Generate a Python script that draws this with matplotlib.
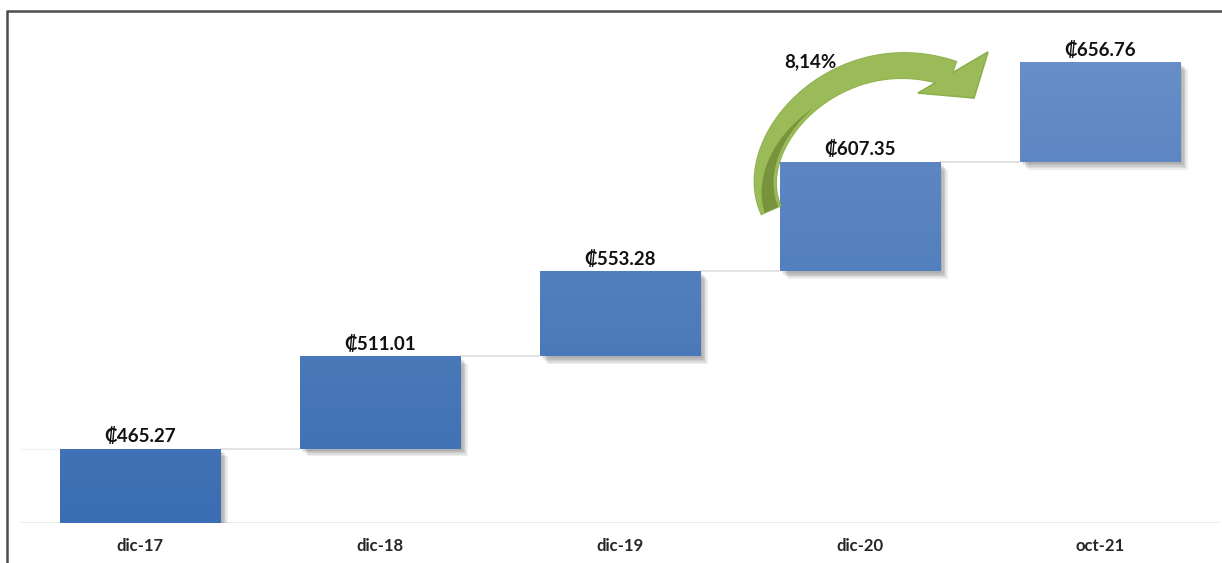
import numpy as np
import matplotlib
matplotlib.use("Agg")
import matplotlib.pyplot as plt
from matplotlib.colors import LinearSegmentedColormap
from matplotlib.patches import Polygon
import matplotlib.patheffects as pe

# ---- data ----
categories = ["dic-17", "dic-18", "dic-19", "dic-20", "oct-21"]
values = [465.27, 511.01, 553.28, 607.35, 656.76]
value_labels = ["₡465.27", "₡511.01", "₡553.28", "₡607.35", "₡656.76"]
growth_label = "8,14%"

FONT = ["Lato", "DejaVu Sans"]
plt.rcParams["font.family"] = FONT

W, H = 1222, 563
fig = plt.figure(figsize=(W / 100, H / 100), dpi=100)
fig.patch.set_facecolor("white")

y_min, y_max = 428.4, 677.7
ax = fig.add_axes([20 / W, 40 / H, 1200 / W, 503 / H])
ax.set_xlim(-0.5, len(categories) - 0.5)
ax.set_ylim(y_min, y_max)
for s in ax.spines.values():
    s.set_visible(False)
ax.set_yticks([])
x = np.arange(len(categories))
ax.set_xticks(x)
ax.set_xticklabels(categories, fontsize=12, fontweight="bold", color="#262626")
ax.tick_params(axis="x", length=0, pad=11)

bottoms = [y_min] + values[:-1]
heights = [v - b for v, b in zip(values, bottoms)]
bar_w = 0.667

# baseline
ax.axhline(y_min, color="#E8E8E8", lw=1.2, zorder=1)

# connector lines
for i in range(len(values) - 1):
    ax.plot([x[i] + bar_w / 2, x[i + 1] - bar_w / 2], [values[i], values[i]],
            color="#DDDDDD", lw=1.2, zorder=1, solid_capstyle="butt")
ax.plot([-0.5, x[0] - bar_w / 2], [values[0], values[0]], color="#F3F3F3", lw=1, zorder=1)

shadow = [pe.SimplePatchShadow(offset=(o, -o), shadow_rgbFace="#000000", alpha=0.07)
          for o in (1.5, 2.5, 3.5, 4.5, 5.5)] + [pe.Normal()]
bars = ax.bar(x, heights, bottom=bottoms, width=bar_w, color="#4A7EC0",
              edgecolor="none", zorder=2, path_effects=shadow)

cmap = LinearSegmentedColormap.from_list("grad", ["#3A6DB2", "#6B91C9"])
grad = np.linspace(0, 1, 256).reshape(-1, 1)
for b in bars:
    im = ax.imshow(grad, extent=[-0.5, len(categories) - 0.5, y_min, y_max],
                   origin="lower", aspect="auto", cmap=cmap, zorder=3)
    im.set_clip_path(b)

for xi, v, lab in zip(x, values, value_labels):
    ax.annotate(lab, (xi, v), xytext=(0, 2.5), textcoords="offset points",
                ha="center", va="bottom", fontsize=13.5, fontweight="bold",
                color="#111111", zorder=5)

# ---- overlay in pixel coordinates for border and growth arrow ----
ov = fig.add_axes([0, 0, 1, 1], zorder=10)
ov.set_xlim(0, W)
ov.set_ylim(H, 0)
ov.axis("off")
ov.patch.set_alpha(0)

ov.plot([7, W], [11, 11], color="#4D4D4D", lw=1.8, solid_capstyle="butt")
ov.plot([7, 7], [10, H], color="#4D4D4D", lw=1.8, solid_capstyle="butt")

P0 = np.array([771, 210.0])
P1 = np.array([740, 140.0])
P2 = np.array([840, 35.0])
P3 = np.array([952, 74.0])


def bez(t):
    t = np.asarray(t)[:, None]
    return ((1 - t) ** 3) * P0 + 3 * ((1 - t) ** 2) * t * P1 + 3 * (1 - t) * t ** 2 * P2 + t ** 3 * P3


def dbez(t):
    t = np.asarray(t)[:, None]
    return 3 * ((1 - t) ** 2) * (P1 - P0) + 6 * (1 - t) * t * (P2 - P1) + 3 * t ** 2 * (P3 - P2)


ts = np.linspace(0, 1, 120)
c = bez(ts)
d = dbez(ts)
d = d / np.linalg.norm(d, axis=1)[:, None]
n = np.column_stack([d[:, 1], -d[:, 0]])  # outer side
w = 21 + 5 * ts
outer = c + n * (w / 2)[:, None]
inner = c - n * (w / 2)[:, None]
body = np.vstack([outer, inner[::-1]])
ov.add_patch(Polygon(body, closed=True, facecolor="#9BBB59", edgecolor="#8CAF4C", lw=1.2))

head = np.array([[918, 93], [988, 52], [974, 98]])
ov.add_patch(Polygon(head, closed=True, facecolor="#9BBB59", edgecolor="#8CAF4C", lw=1.2))
ov.add_patch(Polygon(body, closed=True, facecolor="#9BBB59", edgecolor="none"))

ts2 = np.linspace(0, 0.5, 60)
c2 = bez(ts2)
d2 = dbez(ts2)
d2 = d2 / np.linalg.norm(d2, axis=1)[:, None]
n2 = np.column_stack([d2[:, 1], -d2[:, 0]])
a = 7 - 16 * (ts2 / 0.5)
bb = -8 - 1 * (ts2 / 0.5)
dark = np.vstack([c2 + n2 * a[:, None], (c2 + n2 * bb[:, None])[::-1]])
ov.add_patch(Polygon(dark, closed=True, facecolor="#77933C", edgecolor="none"))

ov.text(810, 62, growth_label, ha="center", va="center", fontsize=13.5,
        fontweight="bold", color="#111111")

fig.savefig("out.png", dpi=100)
